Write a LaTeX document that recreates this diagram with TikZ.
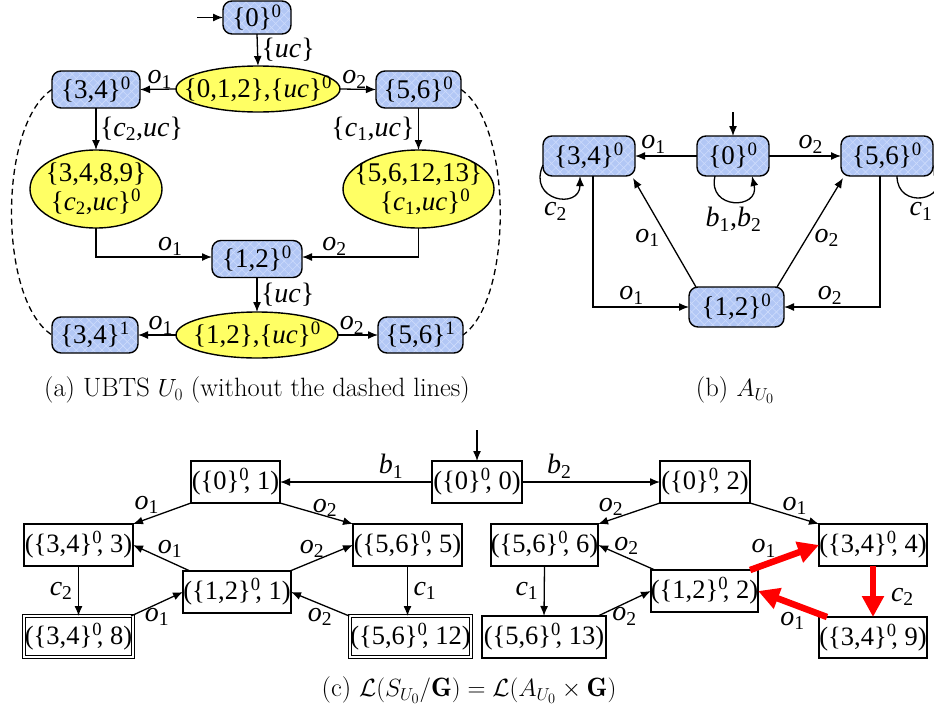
\documentclass[tikz,border=0pt]{standalone}
\usepackage{fontspec}
\usepackage{amsmath}
\usetikzlibrary{arrows.meta,shapes.geometric,patterns.meta,positioning}
\newfontfamily\tnr{Liberation Serif}
\newcommand\nsz{\fontsize{27}{29}\selectfont}
\newcommand\psz{\fontsize{26.5}{29}\selectfont}
\newcommand\lsz{\fontsize{28}{30}\selectfont}
\newcommand\csz{\fontsize{26.5}{30}\selectfont}
% event label: italic letter with upright subscript
\newcommand\ev[2]{\textit{#1}\textsubscript{#2}}
% state text with superscript level
\newcommand\st[2]{\{#1\}\textsuperscript{#2}}
% product state text: ({..}^0, q)
\newcommand\ps[2]{(\{#1\}\textsuperscript{0}\kern-0.2em, #2)}
\definecolor{nodeblue}{RGB}{178,199,245}
\definecolor{hatchblue}{RGB}{206,220,252}
\definecolor{ellyellow}{RGB}{255,255,100}
\definecolor{hotred}{RGB}{255,0,0}
\tikzset{
  every node/.style={inner sep=0pt, outer sep=0pt},
  arr/.style={-{Latex[length=10pt,width=8pt]}, line width=1.3pt},
  plain/.style={line width=1.3pt},
  bnode/.style={draw, line width=1.4pt, rounded corners=9pt, font=\tnr\nsz,
    preaction={fill=nodeblue},
    preaction={pattern={Lines[angle=45,distance=6pt,line width=0.6pt]}, pattern color=hatchblue},
    preaction={pattern={Lines[angle=-45,distance=6pt,line width=0.6pt]}, pattern color=hatchblue}},
  ynode/.style={draw, ellipse, line width=1.4pt, fill=ellyellow},
  ytext/.style={font=\tnr\nsz, align=center},
  pnode/.style={draw, rectangle, line width=1.3pt, font=\tnr\psz, minimum height=42pt},
  fnode/.style={draw, rectangle, line width=1pt, double, double distance=2pt, font=\tnr\psz, minimum height=41pt},
  lab/.style={font=\tnr\lsz},
  redarr/.style={draw=hotred, line width=6.5pt, -{Triangle[length=21pt,width=21pt]}},
  captext/.style={font=\csz},
}
\begin{document}
\begin{tikzpicture}[x=1pt,y=-1pt]
\useasboundingbox (0,0) rectangle (934,715);

% ---------------- (a) UBTS U_0 ----------------
\node[bnode, minimum width=68pt, minimum height=33pt] (n0) at (257,17.5) {\st{0}{0}};
\node[ynode, minimum width=164pt, minimum height=46pt,
  label={[ytext]center:\{0,1,2\},\{\textit{uc}\}\textsuperscript{0}}] (e012) at (258,89) {};
\node[bnode, minimum width=88pt, minimum height=37pt] (n34) at (96,89.5) {\st{3,4}{0}};
\node[bnode, minimum width=85pt, minimum height=37pt] (n56) at (418.5,89.5) {\st{5,6}{0}};
\node[ynode, minimum width=132pt, minimum height=78pt,
  label={[ytext]center:\{3,4,8,9\}\\\{\ev{c}{2},\textit{uc}\}\textsuperscript{0}}] (eL) at (96,189) {};
\node[ynode, minimum width=151pt, minimum height=78pt,
  label={[ytext]center:\{5,6,12,13\}\\\ \ \{\ev{c}{1},\textit{uc}\}\textsuperscript{0}}] (eR) at (418.5,189) {};
\node[bnode, minimum width=90pt, minimum height=37pt] (n12) at (257,259) {\st{1,2}{0}};
\node[ynode, minimum width=162pt, minimum height=46pt,
  label={[ytext]center:\{1,2\},\{\textit{uc}\}\textsuperscript{0}}] (eB) at (257,335) {};
\node[bnode, minimum width=86pt, minimum height=36pt] (n34b) at (95,335) {\st{3,4}{1}};
\node[bnode, minimum width=85pt, minimum height=36pt] (n56b) at (420.5,335) {\st{5,6}{1}};

\coordinate (ia) at (197,17.5);
\draw[arr] (ia) -- (n0.west);
\draw[arr] (n0.south) -- node[lab, right=4pt] {\{\textit{uc}\}} (e012.north);
\draw[arr] (e012.west) -- node[lab, pos=0.45, above=1pt] {\ev{o}{1}} (n34.east);
\draw[arr] (e012.east) -- node[lab, pos=0.4, above=1pt] {\ev{o}{2}} (n56.west);
\draw[arr] (n34.south) -- node[lab, right=4pt] {\{\ev{c}{2},\textit{uc}\}} (eL.north);
\draw[arr] (n56.south) -- node[lab, left=4pt] {\{\ev{c}{1},\textit{uc}\}} (eR.north);
\draw[arr] (eL.south) |- node[lab, pos=0.82, above=2pt] {\ev{o}{1}} ([yshift=2pt]n12.west);
\draw[arr] (eR.south) |- node[lab, pos=0.86, above=2pt] {\ev{o}{2}} ([yshift=2pt]n12.east);
\draw[arr] (n12.south) -- node[lab, right=4pt] {\{\textit{uc}\}} (eB.north);
\draw[arr] (eB.west) -- node[lab, pos=0.4, above=1pt] {\ev{o}{1}} (n34b.east);
\draw[arr] (eB.east) -- node[lab, pos=0.35, above=1pt] {\ev{o}{2}} (n56b.west);
\draw[plain, dash pattern=on 6pt off 4pt] (n34.west) .. controls (-2,125) and (-2,300) .. (n34b.west);
\draw[plain, dash pattern=on 6pt off 4pt] (n56.east) .. controls (513,125) and (513,300) .. (n56b.east);

\node[captext] (capa) at (257,390) {(a) UBTS $U_0$ (without the dashed lines)};

% ---------------- (b) A_{U_0} ----------------
\node[bnode, minimum width=72pt, minimum height=40pt] (b0) at (733,156) {\st{0}{0}};
\node[bnode, minimum width=92pt, minimum height=40pt] (b34) at (589,156) {\st{3,4}{0}};
\node[bnode, minimum width=92pt, minimum height=40pt] (b56) at (887,156) {\st{5,6}{0}};
\node[bnode, minimum width=95pt, minimum height=40pt] (b12) at (736.5,307) {\st{1,2}{0}};

\coordinate (ib) at (733,112);
\draw[arr] (ib) -- (b0.north);
\draw[arr] (b0.west) -- node[lab, pos=0.7, above=3pt] {\ev{o}{1}} (b34.east);
\draw[arr] (b0.east) -- node[lab, pos=0.58, above=3pt] {\ev{o}{2}} (b56.west);
\draw[arr] ([xshift=-18pt]b0.south) .. controls +(-8,34) and +(8,34) .. node[lab, pos=0.5, below=6pt] {\ev{b}{1},\ev{b}{2}} ([xshift=19pt]b0.south);
\draw[arr] ([yshift=-9pt]b34.west) .. controls +(-16,36) and +(0,34) .. node[lab, pos=0.5, below=6pt] {\ev{c}{2}} ([xshift=-9pt]b34.south);
\draw[arr] ([xshift=10pt]b56.south) .. controls +(0,34) and +(16,36) .. node[lab, pos=0.5, below=6pt] {\ev{c}{1}} ([yshift=-9pt]b56.east);
\draw[arr] ([xshift=7pt]b12.north west) -- node[lab, pos=0.45, left=8pt] {\ev{o}{1}} ([xshift=-2pt,yshift=-2pt]b34.south east);
\draw[arr] ([xshift=-7pt]b12.north east) -- node[lab, pos=0.45, right=8pt] {\ev{o}{2}} ([xshift=2pt,yshift=-2pt]b56.south west);
\draw[arr] ([xshift=4pt]b34.south) |- node[lab, pos=0.7, above=3pt] {\ev{o}{1}} (b12.west);
\draw[arr] ([xshift=-7pt]b56.south) |- node[lab, pos=0.76, above=3pt] {\ev{o}{2}} (b12.east);

\node[captext] (capb) at (735,390) {(b) $A_{U_0}$};

% ---------------- (c) product ----------------
\node[pnode, minimum width=89pt] (c01) at (235.5,482) {\ps{0}{1}};
\node[pnode, minimum width=90pt] (c00) at (477,482) {\ps{0}{0}};
\node[pnode, minimum width=90pt] (c02) at (705,482) {\ps{0}{2}};
\node[pnode, minimum width=109pt] (c343) at (78.5,545) {\ps{3,4}{3}};
\node[pnode, minimum width=109pt] (c565) at (407.5,545) {\ps{5,6}{5}};
\node[pnode, minimum width=108pt] (c121) at (237,592) {\ps{1,2}{1}};
\node[fnode, minimum width=109pt] (c348) at (78.5,636.5) {\ps{3,4}{8}};
\node[fnode, minimum width=119pt] (c5612) at (410.5,636.5) {\ps{5,6}{12}};
\node[pnode, minimum width=107pt] (c566) at (544.5,545) {\ps{5,6}{6}};
\node[pnode, minimum width=108pt] (c344) at (873,545) {\ps{3,4}{4}};
\node[pnode, minimum width=107pt] (c122) at (704.5,591) {\ps{1,2}{2}};
\node[pnode, minimum width=124pt] (c5613) at (544,637) {\ps{5,6}{13}};
\node[pnode, minimum width=108pt, minimum height=41pt] (c349) at (873,637.5) {\ps{3,4}{9}};

\coordinate (ic) at (477,430);
\draw[arr] (ic) -- (c00.north);
\draw[arr] (c00.west) -- node[lab, pos=0.27, above=4pt] {\ev{b}{1}} (c01.east);
\draw[arr] (c00.east) -- node[lab, pos=0.27, above=4pt] {\ev{b}{2}} (c02.west);
\draw[arr] (c01.south west) -- node[lab, pos=0.5, above left=0pt and 3pt] {\ev{o}{1}} (c343.north east);
\draw[arr] (c01.south east) -- node[lab, pos=0.45, above right=-4pt and 0pt] {\ev{o}{2}} (c565.north west);
\draw[arr] ([xshift=7pt]c121.north west) -- node[lab, pos=0.35, above=4pt] {\ev{o}{1}} (c343.east);
\draw[arr] ([xshift=-1pt]c121.north east) -- node[lab, pos=0.35, above=4pt] {\ev{o}{2}} (c565.west);
\draw[arr] (c343.south) -- node[lab, left=6pt] {\ev{c}{2}} (c348.north);
\draw[arr] (c565.south) -- node[lab, right=6pt] {\ev{c}{1}} (c565.south |- c5612.north);
\draw[arr] ([xshift=-2pt]c348.north east) -- node[lab, pos=0.5, below=4pt] {\ev{o}{1}} (c121.west);
\draw[arr] ([xshift=-1pt]c5612.north west) -- node[lab, pos=0.5, below=4pt] {\ev{o}{2}} (c121.east);
\draw[arr] (c02.south west) -- node[lab, pos=0.5, above left=-2pt and 6pt] {\ev{o}{2}} (c566.north east);
\draw[arr] (c02.south east) -- node[lab, pos=0.5, above right=-1pt and -2pt] {\ev{o}{1}} (c344.north west);
\draw[arr] ([xshift=4pt]c122.north west) -- node[lab, pos=0.5, above=3pt] {\ev{o}{2}} (c566.east);
\draw[arr] (c566.south) -- node[lab, left=6pt] {\ev{c}{1}} (c5613.north);
\draw[arr] ([xshift=-8pt]c5613.north east) -- node[lab, pos=0.5, below=4pt] {\ev{o}{2}} (c122.west);
\draw[redarr] ([xshift=-8pt]c122.north east) -- node[lab, pos=0.2, above=8pt] {\ev{o}{1}} (c344.west);
\draw[redarr] (c344.south) -- node[lab, pos=0.6, right=18pt] {\ev{c}{2}} (c349.north);
\draw[redarr] ([xshift=8pt]c349.north west) -- node[lab, pos=0.5, below=8pt] {\ev{o}{1}} (c122.east);

\node[captext] (capc) at (469,690) {(c) $\mathcal{L}(S_{U_0}/\mathbf{G}) = \mathcal{L}(A_{U_0}\times \mathbf{G})$};
\end{tikzpicture}
\end{document}
